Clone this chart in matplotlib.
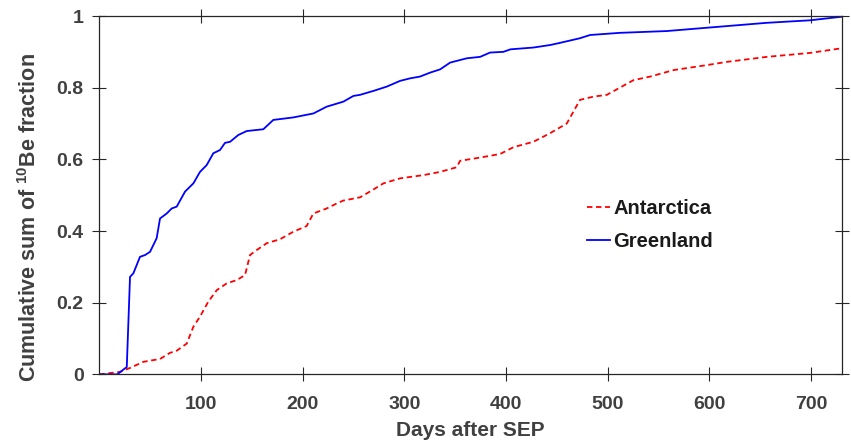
import matplotlib
matplotlib.use("Agg")
import matplotlib.pyplot as plt

# Greenland cumulative 10Be fraction (solid blue)
green_days = [0, 17.7, 25.3, 27, 30.2, 33.5, 40, 45, 49.9, 56.4, 59.7, 66.3, 71.2, 76.1, 84.3,
              92.5, 99, 105.6, 112.1, 118.7, 123.6, 128.6, 136.7, 145, 161.3, 171.1, 190.8,
              210.5, 223.6, 240, 249.9, 256.4, 269.6, 282.7, 295.8, 305.6, 315.4, 325.3, 335.1,
              345, 361.4, 374.5, 384.3, 397.4, 404.3, 426.9, 443.3, 453, 472.7, 482.6, 511.9,
              558, 600.7, 656.5, 699, 730]
green_frac = [0, 0, 0.017, 0.02, 0.272, 0.282, 0.328, 0.333, 0.342, 0.38, 0.435, 0.449, 0.463,
              0.468, 0.51, 0.533, 0.565, 0.584, 0.617, 0.626, 0.646, 0.649, 0.668, 0.679, 0.684,
              0.71, 0.717, 0.728, 0.747, 0.761, 0.777, 0.78, 0.791, 0.803, 0.819, 0.826, 0.831,
              0.842, 0.851, 0.87, 0.882, 0.886, 0.898, 0.9, 0.907, 0.912, 0.919, 0.925, 0.938,
              0.947, 0.953, 0.958, 0.968, 0.981, 0.988, 0.998]

# Antarctica cumulative 10Be fraction (dashed red)
ant_days = [0, 20.4, 30.2, 43.3, 59.7, 69.5, 76.1, 86, 92.5, 99, 107.2, 115.5, 125.3, 135.1,
            143.3, 148.2, 154.8, 164.6, 177.7, 190.8, 203.9, 210.5, 223.6, 233.5, 240, 256.4,
            269.6, 279.4, 295.8, 318.7, 335.1, 351.5, 354.8, 374.5, 394.2, 407.3, 426.9, 443.3,
            459.7, 472.7, 485.9, 499.1, 525.3, 541.7, 564.6, 597.4, 617.2, 656.5, 699, 730]
ant_frac = [0, 0.007, 0.018, 0.035, 0.043, 0.06, 0.066, 0.086, 0.133, 0.161, 0.203, 0.235,
            0.254, 0.263, 0.277, 0.333, 0.347, 0.366, 0.377, 0.398, 0.414, 0.449, 0.463, 0.477,
            0.485, 0.494, 0.516, 0.533, 0.547, 0.556, 0.565, 0.578, 0.596, 0.605, 0.615, 0.634,
            0.649, 0.673, 0.70, 0.766, 0.775, 0.78, 0.821, 0.831, 0.849, 0.863, 0.872, 0.886,
            0.897, 0.91]

x_ticks = [100, 200, 300, 400, 500, 600, 700]
y_ticks = [0, 0.2, 0.4, 0.6, 0.8, 1]
y_tick_labels = ["0", "0.2", "0.4", "0.6", "0.8", "1"]

font = ["Liberation Sans", "DejaVu Sans"]
label_color = "#404040"

fig = plt.figure(figsize=(8.51, 4.42), dpi=100)
ax = fig.add_axes([0.1167, 0.153, 0.8723, 0.8108])

ax.plot(ant_days, ant_frac, color="red", lw=1.3, linestyle=(0, (3, 2)), label="Antarctica")
ax.plot(green_days, green_frac, color="blue", lw=1.3, label="Greenland")

ax.set_xlim(0, 730)
ax.set_ylim(0, 1)
ax.set_xticks(x_ticks)
ax.set_yticks(y_ticks)
ax.set_yticklabels(y_tick_labels)

ax.tick_params(direction="inout", length=10.5, width=0.8, color="#262626",
               top=True, right=True, labelcolor=label_color)
ax.tick_params(axis="x", pad=10)
ax.tick_params(axis="y", pad=6)
for lab in ax.get_xticklabels() + ax.get_yticklabels():
    lab.set_family(font)
    lab.set_fontweight("bold")
    lab.set_fontsize(14)
for sp in ax.spines.values():
    sp.set_color("#262626")
    sp.set_linewidth(0.9)

ax.set_xlabel("Days after SEP", family=font, fontweight="bold", fontsize=15,
              color=label_color, labelpad=6)
ax.set_ylabel("Cumulative sum of $\\mathregular{^{10}}$Be fraction", family=font,
              fontweight="bold", fontsize=15.5, color=label_color)
ax.yaxis.set_label_coords(-0.078, 0.4376)

leg = ax.legend(loc="center left", bbox_to_anchor=(0.657, 0.417), frameon=False,
                borderpad=0, borderaxespad=0, handlelength=1.15, handletextpad=0.15,
                labelspacing=0.72, prop={"family": "Liberation Sans", "weight": "bold", "size": 14.5})
for t in leg.get_texts():
    t.set_color("#1a1a1a")

fig.savefig("out.png", dpi=100)
